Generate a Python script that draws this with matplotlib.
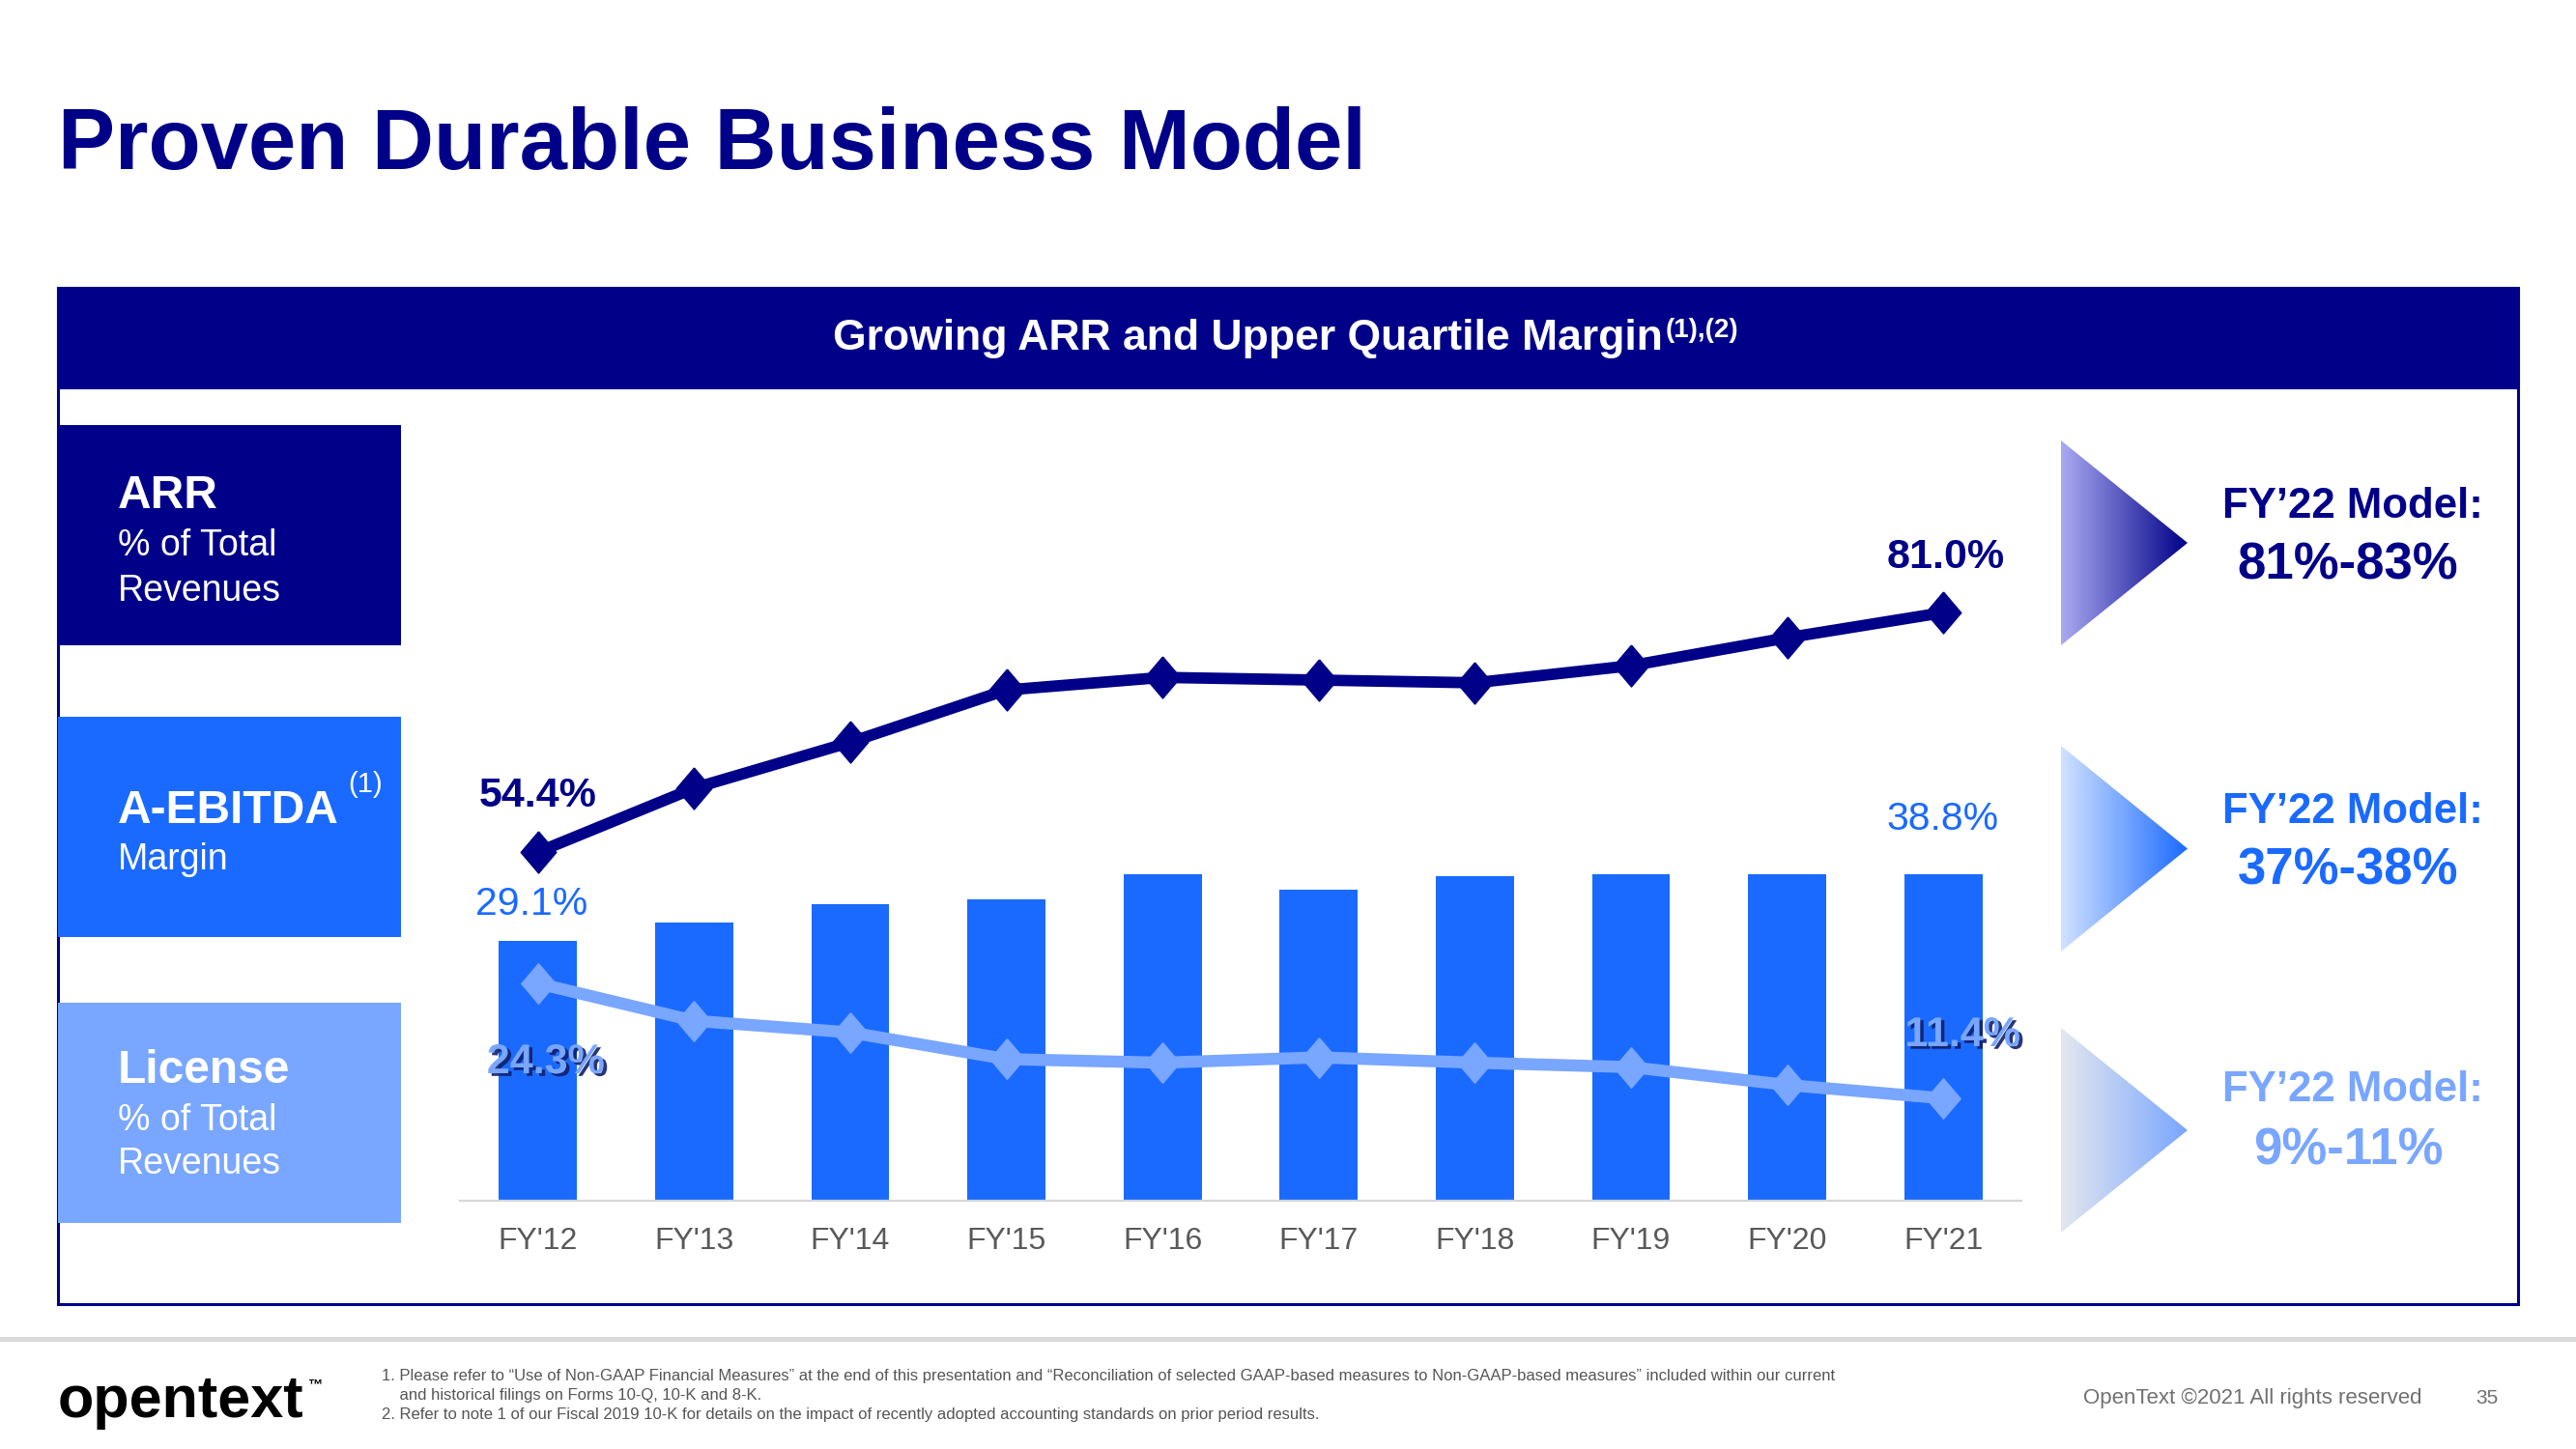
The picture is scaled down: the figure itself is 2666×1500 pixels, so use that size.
"""
Proven Durable Business Model - ARR / A-EBITDA / License chart slide.
"""

import matplotlib
matplotlib.use("Agg")
import matplotlib.pyplot as plt
import matplotlib.patheffects as pe
from matplotlib.colors import LinearSegmentedColormap
from matplotlib.patches import Polygon, Rectangle
import numpy as np

plt.rcParams["font.family"] = ["Liberation Sans", "DejaVu Sans"]

# ---- data -------------------------------------------------------------
years = ["FY'12", "FY'13", "FY'14", "FY'15", "FY'16",
         "FY'17", "FY'18", "FY'19", "FY'20", "FY'21"]
ebitda_margin = [29.1, 31.7, 34.4, 35.2, 38.8, 36.6, 38.6, 38.8, 38.8, 38.8]
arr_pct = [54.4, 61.5, 66.6, 72.4, 73.8, 73.5, 73.2, 75.1, 78.2, 81.0]
license_pct = [24.3, 20.1, 18.8, 15.8, 15.4, 16.0, 15.4, 14.9, 12.9, 11.4]

model_labels = ["81%-83%", "37%-38%", "9%-11%"]
box_titles = ["ARR", "A-EBITDA", "License"]
box_subtitles = [["% of Total", "Revenues"], ["Margin"], ["% of Total", "Revenues"]]

footnotes = [
    "1. Please refer to \u201cUse of Non-GAAP Financial Measures\u201d at the end of this presentation "
    "and \u201cReconciliation of selected GAAP-based measures to Non-GAAP-based measures\u201d "
    "included within our current",
    "    and historical filings on Forms 10-Q, 10-K and 8-K.",
    "2. Refer to note 1 of our Fiscal 2019 10-K for details on the impact of recently adopted "
    "accounting standards on prior period results.",
]

# ---- style ------------------------------------------------------------
W, H, DPI = 2666, 1500, 100
NAVY = "#000088"
BLUE = "#1A6AFF"
LIGHT = "#79A6FF"
GREY = "#595959"

fig = plt.figure(figsize=(W / DPI, H / DPI), dpi=DPI)
renderer = fig.canvas.get_renderer()

# background axes in pixel units (y down)
bg = fig.add_axes([0, 0, 1, 1])
bg.set_xlim(0, W)
bg.set_ylim(H, 0)
bg.axis("off")

bg.text(60, 175, "Proven Durable Business Model", fontsize=63.8, weight="bold",
        color=NAVY, va="baseline")

# frame + header band
bg.add_patch(Rectangle((60, 298), 2546, 1052, fc="white", ec=NAVY, lw=2.2))
bg.add_patch(Rectangle((60, 298), 2546, 103, fc=NAVY, ec=NAVY, lw=2.2))
hdr = bg.text(862, 362, "Growing ARR and Upper Quartile Margin", fontsize=32,
              weight="bold", color="white", va="baseline")
hx = hdr.get_window_extent(renderer).x1
bg.text(hx + 3, 349, "(1),(2)", fontsize=20, weight="bold", color="white", va="baseline")

# left legend boxes
box_colors = [NAVY, BLUE, LIGHT]
box_tops = [440, 742, 1038]
title_base = [526, 852, 1121]
sub_base = [[575, 622], [900], [1170, 1215]]
for i in range(3):
    bg.add_patch(Rectangle((60, box_tops[i]), 355, 228, fc=box_colors[i], ec="none"))
    t = bg.text(122, title_base[i], box_titles[i], fontsize=34.5, weight="bold",
                color="white", va="baseline")
    if i == 1:
        tx = t.get_window_extent(renderer).x1
        bg.text(tx + 9, 820, "(1)", fontsize=21, color="white", va="baseline")
    for s, yb in zip(box_subtitles[i], sub_base[i]):
        bg.text(122, yb, s, fontsize=27, color="white", va="baseline")

# right side gradient arrows + FY'22 model text
tri_y = [(456, 668), (772, 985), (1064, 1276)]
tri_cols = [("#AAAAF2", NAVY), ("#D2E2FF", BLUE), ("#E4E7EE", LIGHT)]
model_base = [(536, 600), (852, 916), (1140, 1205)]
grad = np.linspace(0, 1, 256)[None, :]
for i in range(3):
    yt, yb = tri_y[i]
    tri = Polygon([(2133, yt), (2264, (yt + yb) / 2), (2133, yb)], closed=True,
                  fc="none", ec="none")
    bg.add_patch(tri)
    cmap = LinearSegmentedColormap.from_list("g%d" % i, list(tri_cols[i]))
    im = bg.imshow(grad, cmap=cmap, extent=(2133, 2264, yb, yt), aspect="auto",
                   interpolation="bilinear", zorder=2)
    im.set_clip_path(tri)
    c = box_colors[i]
    bg.text(2435, model_base[i][0], "FY\u201922 Model:", fontsize=31.5, weight="bold",
            color=c, ha="center", va="baseline")
    bg.text(2430, model_base[i][1], model_labels[i], fontsize=38, weight="bold",
            color=c, ha="center", va="baseline")
bg.set_xlim(0, W)
bg.set_ylim(H, 0)

# footer
bg.add_patch(Rectangle((0, 1384), W, 5, fc="#DADADA", ec="none"))
bg.text(60, 1467, "opentext", fontsize=44, weight="bold", color="black", va="baseline")
bg.text(318, 1437, "\u2122", fontsize=11, weight="bold", color="black", va="baseline")
for s, yb in zip(footnotes, [1429, 1449, 1469]):
    bg.text(395, yb, s, fontsize=12, color="#555555", va="baseline")
bg.text(2156, 1453, "OpenText \u00a92021 All rights reserved", fontsize=16,
        color="#707070", va="baseline")
bg.text(2562, 1453, "35", fontsize=15, color="#707070", va="baseline")

# ---- chart ------------------------------------------------------------
X0, X1, YT, YB = 476, 2092, 460, 1243
ax = fig.add_axes([X0 / W, 1 - YB / H, (X1 - X0) / W, (YB - YT) / H])
ax.patch.set_alpha(0)
x = np.arange(len(years))

BAR_BASE = -9.1
bar_top = BAR_BASE + (YB - YT) / 7.05
ax.bar(x, np.array(ebitda_margin) - BAR_BASE, bottom=BAR_BASE, width=0.5, color=BLUE)
ax.set_xlim(-0.5, len(years) - 0.5)
ax.set_ylim(BAR_BASE, bar_top)
for sp in ["top", "left", "right"]:
    ax.spines[sp].set_visible(False)
ax.spines["bottom"].set_color("#D6D6D6")
ax.spines["bottom"].set_linewidth(1.6)
ax.set_yticks([])
ax.set_xticks(x, years)
ax.tick_params(axis="x", length=0, pad=19.5, labelsize=23, labelcolor=GREY)

diamond = [(0, 1), (0.85, 0), (0, -1), (-0.85, 0), (0, 1)]

ax_lic = ax.twinx()
ax_lic.set_ylim(-0.1, -0.1 + (YB - YT) / 9.22)
ax_lic.axis("off")
ax_lic.plot(x, license_pct, color=LIGHT, lw=9, marker=diamond, ms=30, mec=LIGHT,
            solid_joinstyle="round")

ax_arr = ax.twinx()
ax_arr.set_ylim(15.67, 15.67 + (YB - YT) / 9.32)
ax_arr.axis("off")
ax_arr.plot(x, arr_pct, color=NAVY, lw=8.5, marker=diamond, ms=31, mec=NAVY,
            solid_joinstyle="round")

# value labels (first / last points)
ax_arr.annotate("%.1f%%" % arr_pct[0], (0, arr_pct[0]), xytext=(0, 58),
                textcoords="offset pixels", ha="center", va="center",
                fontsize=31, weight="bold", color=NAVY)
ax_arr.annotate("%.1f%%" % arr_pct[-1], (9, arr_pct[-1]), xytext=(2, 57),
                textcoords="offset pixels", ha="center", va="center",
                fontsize=31, weight="bold", color=NAVY)
ax.annotate("%.1f%%" % ebitda_margin[0], (0, ebitda_margin[0]), xytext=(-7, 38),
            textcoords="offset pixels", ha="center", va="center",
            fontsize=29.5, color=BLUE)
ax.annotate("%.1f%%" % ebitda_margin[-1], (9, ebitda_margin[-1]), xytext=(-1, 57),
            textcoords="offset pixels", ha="center", va="center",
            fontsize=29.5, color=BLUE)
shadow = [pe.withSimplePatchShadow(offset=(2.5, -2), shadow_rgbFace="#10206A", alpha=0.9)]
ax_lic.annotate("%.1f%%" % license_pct[0], (0, license_pct[0]), xytext=(8, -82),
                textcoords="offset pixels", ha="center", va="center",
                fontsize=31, weight="bold", color=LIGHT, path_effects=shadow)
ax_lic.annotate("%.1f%%" % license_pct[-1], (9, license_pct[-1]), xytext=(20, 65),
                textcoords="offset pixels", ha="center", va="center",
                fontsize=31, weight="bold", color=LIGHT, path_effects=shadow)

fig.savefig("out.png", dpi=DPI)
